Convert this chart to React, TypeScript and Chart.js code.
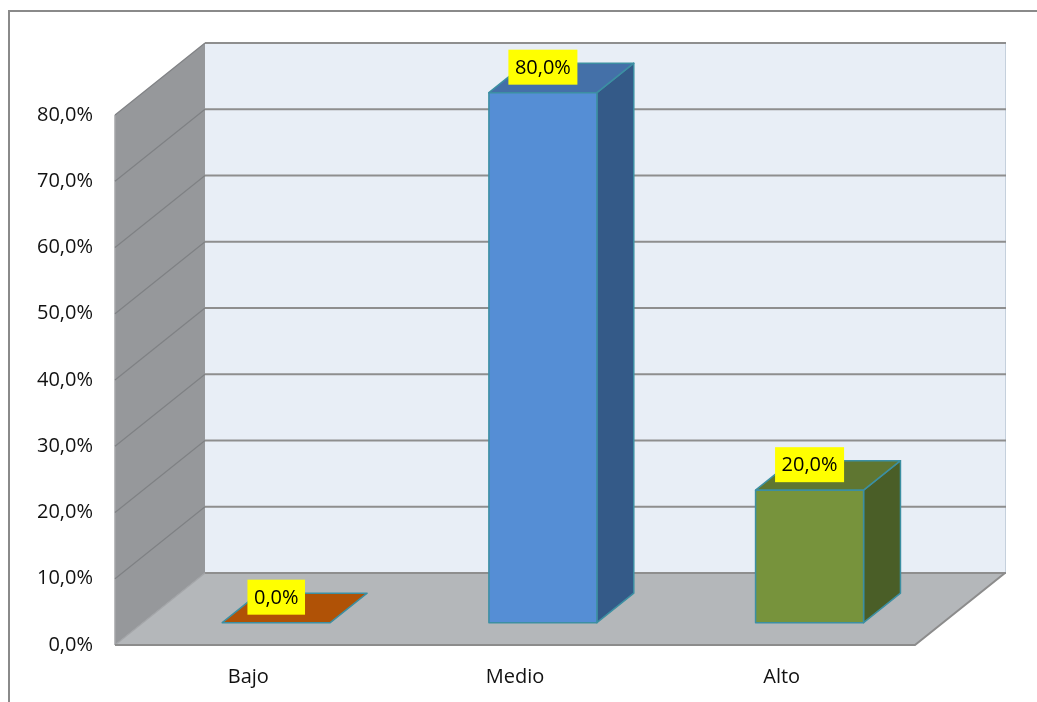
import React, { useEffect, useRef } from "react";
import { Chart, registerables } from "chart.js";

Chart.register(...registerables);

const categories = ["Bajo", "Medio", "Alto"];
const values = [0, 80, 20];
const yMin = 0;
const yMax = 80;
const yStep = 10;
const frontColors = ["#B05206", "#558ED5", "#77933C"];
const topColors = ["#B05206", "#4470A8", "#5F7631"];
const sideColors = ["#8A4004", "#345A88", "#4A5E27"];

const FONT = "'Open Sans', Lato, sans-serif";
const FONT_SIZE = 20;
const DX = 90;
const DY = -72;
const BAR_FRONT = 0.31;
const BAR_BACK = 0.72;

const fmt = (v: number) => v.toFixed(1).replace(".", ",") + "%";

const framePlugin = {
  id: "frame",
  beforeDraw(chart: any) {
    const ctx = chart.ctx;
    ctx.save();
    ctx.strokeStyle = "#8A8A8A";
    ctx.lineWidth = 2;
    ctx.beginPath();
    ctx.moveTo(9, chart.height + 2);
    ctx.lineTo(9, 11);
    ctx.lineTo(chart.width + 2, 11);
    ctx.stroke();
    ctx.restore();
  },
};

const wallsPlugin = {
  id: "walls3d",
  beforeDatasetsDraw(chart: any) {
    const ctx = chart.ctx;
    const ca = chart.chartArea;
    const ys = chart.scales.y;
    const L = ca.left;
    const R = ca.right;
    const B = ys.getPixelForValue(yMin);
    const T = ys.getPixelForValue(yMax);
    ctx.save();
    // back wall
    ctx.fillStyle = "#E8EEF6";
    ctx.fillRect(L + DX, T + DY, R - L, B - T);
    ctx.strokeStyle = "#C5D0DC";
    ctx.lineWidth = 1;
    ctx.beginPath();
    ctx.moveTo(R + DX + 0.5, T + DY);
    ctx.lineTo(R + DX + 0.5, B + DY);
    ctx.stroke();
    // side wall
    ctx.fillStyle = "#96989B";
    ctx.beginPath();
    ctx.moveTo(L, B);
    ctx.lineTo(L, T);
    ctx.lineTo(L + DX, T + DY);
    ctx.lineTo(L + DX, B + DY);
    ctx.closePath();
    ctx.fill();
    ctx.strokeStyle = "#A4A6A9";
    ctx.lineWidth = 1.5;
    ctx.beginPath();
    ctx.moveTo(L, B);
    ctx.lineTo(L, T);
    ctx.stroke();
    // floor
    ctx.fillStyle = "#B4B7BA";
    ctx.beginPath();
    ctx.moveTo(L, B);
    ctx.lineTo(R, B);
    ctx.lineTo(R + DX, B + DY);
    ctx.lineTo(L + DX, B + DY);
    ctx.closePath();
    ctx.fill();
    // gridlines
    const ticks = ys.ticks;
    for (const t of ticks) {
      const y = ys.getPixelForValue(t.value);
      ctx.strokeStyle = "#7F8184";
      ctx.lineWidth = 1.2;
      if (t.value !== yMin) {
        ctx.beginPath();
        ctx.moveTo(L, y);
        ctx.lineTo(L + DX, y + DY);
        ctx.stroke();
      }
      ctx.strokeStyle = "#8E8E8E";
      ctx.lineWidth = 2;
      ctx.beginPath();
      ctx.moveTo(L + DX, y + DY);
      ctx.lineTo(R + DX + 1, y + DY);
      ctx.stroke();
    }
    // floor edges
    ctx.strokeStyle = "#A2A4A7";
    ctx.lineWidth = 1.2;
    ctx.beginPath();
    ctx.moveTo(L, B);
    ctx.lineTo(L + DX, B + DY);
    ctx.stroke();
    ctx.strokeStyle = "#8C8C8C";
    ctx.lineWidth = 2;
    ctx.beginPath();
    ctx.moveTo(L, B);
    ctx.lineTo(R, B);
    ctx.lineTo(R + DX, B + DY);
    ctx.stroke();
    ctx.restore();
  },
};

const bars3dPlugin = {
  id: "bars3d",
  afterDatasetsDraw(chart: any) {
    const ctx = chart.ctx;
    const meta = chart.getDatasetMeta(0);
    const fx = DX * BAR_FRONT;
    const fy = DY * BAR_FRONT;
    const ddx = DX * (BAR_BACK - BAR_FRONT);
    const ddy = DY * (BAR_BACK - BAR_FRONT);
    ctx.save();
    ctx.lineJoin = "round";
    ctx.strokeStyle = "#3C8FA2";
    ctx.lineWidth = 1.5;
    meta.data.forEach((el: any, i: number) => {
      const p = el.getProps(["x", "y", "base", "width"], true);
      const x0 = p.x - p.width / 2 + fx;
      const x1 = p.x + p.width / 2 + fx;
      const yT = p.y + fy;
      const yB = p.base + fy;
      // side
      if (yB - yT > 0.5) {
        ctx.fillStyle = sideColors[i];
        ctx.beginPath();
        ctx.moveTo(x1, yT);
        ctx.lineTo(x1, yB);
        ctx.lineTo(x1 + ddx, yB + ddy);
        ctx.lineTo(x1 + ddx, yT + ddy);
        ctx.closePath();
        ctx.fill();
        ctx.stroke();
      }
      // top
      ctx.fillStyle = topColors[i];
      ctx.beginPath();
      ctx.moveTo(x0, yT);
      ctx.lineTo(x1, yT);
      ctx.lineTo(x1 + ddx, yT + ddy);
      ctx.lineTo(x0 + ddx, yT + ddy);
      ctx.closePath();
      ctx.fill();
      ctx.stroke();
      // front
      if (yB - yT > 0.5) {
        ctx.fillStyle = frontColors[i];
        ctx.beginPath();
        ctx.rect(x0, yT, x1 - x0, yB - yT);
        ctx.fill();
        ctx.stroke();
      }
    });
    // labels
    ctx.font = `${FONT_SIZE}px ${FONT}`;
    ctx.textAlign = "center";
    ctx.textBaseline = "middle";
    meta.data.forEach((el: any, i: number) => {
      const p = el.getProps(["x", "y"], true);
      const cx = p.x + fx;
      const yT = p.y + fy;
      const txt = fmt(values[i]);
      const w = ctx.measureText(txt).width + 13;
      const h = 35;
      const bottom = yT - 8;
      ctx.fillStyle = "#FFFF00";
      ctx.fillRect(cx - w / 2, bottom - h, w, h);
      ctx.fillStyle = "#000000";
      ctx.fillText(txt, cx, bottom - h / 2 + 1);
    });
    ctx.restore();
  },
};

export default function App() {
  const ref = useRef<HTMLCanvasElement>(null);
  useEffect(() => {
    if (!ref.current) return;
    const chart = new Chart(ref.current, {
      type: "bar",
      data: {
        labels: categories,
        datasets: [
          {
            data: values,
            backgroundColor: "rgba(0,0,0,0)",
            borderWidth: 0,
            categoryPercentage: 1,
            barPercentage: 0.405,
          },
        ],
      },
      options: {
        responsive: false,
        animation: false,
        events: [],
        layout: { padding: { top: 115, right: 122, left: 0, bottom: 0 } },
        plugins: { legend: { display: false }, tooltip: { enabled: false } },
        scales: {
          x: {
            grid: { display: false, drawTicks: false },
            border: { display: false },
            ticks: { color: "#111", font: { family: FONT, size: FONT_SIZE }, padding: 20 },
            afterFit(scale: any) {
              scale.height = 57;
            },
          },
          y: {
            min: yMin,
            max: yMax,
            grid: { display: false, drawTicks: false },
            border: { display: false },
            ticks: {
              stepSize: yStep,
              color: "#111",
              font: { family: FONT, size: FONT_SIZE },
              padding: 22,
              callback: (v: any) => fmt(Number(v)),
            },
            afterFit(scale: any) {
              scale.width = 115;
            },
          },
        },
      },
      plugins: [framePlugin, wallsPlugin, bars3dPlugin],
    });
    return () => chart.destroy();
  }, []);
  return (
    <div style={{ position: "absolute", left: 0, top: 0, width: 1037, height: 702, background: "#fff" }}>
      <canvas ref={ref} width={1037} height={702} style={{ display: "block" }} />
    </div>
  );
}
